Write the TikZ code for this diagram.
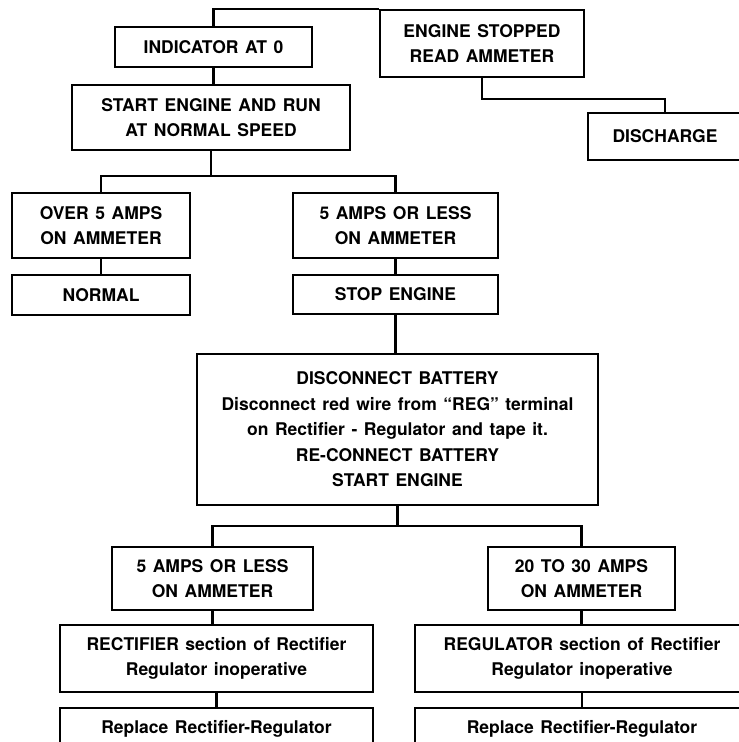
\documentclass[tikz,border=0pt]{standalone}
\usepackage{fontspec}
\setmainfont{TeX Gyre Heros}[WordSpace=1.35]
\begin{document}
\begin{tikzpicture}[x=1pt,y=-1pt,
  box/.style={draw, line width=2.4pt, rectangle, inner sep=0pt, align=center,
    font=\bfseries\fontsize{17.5}{25.5}\selectfont},
  link/.style={line width=2.4pt}]
\useasboundingbox (0,0) rectangle (739,742);
\clip (0,0) rectangle (739,742);
\fill[white] (0,0) rectangle (739,742);
\node[box, minimum width=197pt, minimum height=40pt] (ind) at (213.5,47) {INDICATOR AT 0};
\node[box, minimum width=204pt, minimum height=67pt] (eng) at (482,43.5) {ENGINE STOPPED\\READ AMMETER};
\node[box, minimum width=154pt, minimum height=47pt] (dis) at (665,136.5) {DISCHARGE};
\node[box, minimum width=278pt, minimum height=65pt] (start) at (211,117.5) {START ENGINE AND RUN\\AT NORMAL SPEED};
\node[box, minimum width=178pt, minimum height=65pt] (over) at (101,225.5) {OVER 5 AMPS\\ON AMMETER};
\node[box, minimum width=205pt, minimum height=65pt] (less) at (395.5,225.5) {5 AMPS OR LESS\\ON AMMETER};
\node[box, minimum width=178pt, minimum height=40pt] (normal) at (101,295) {NORMAL};
\node[box, minimum width=205pt, minimum height=39pt] (stop) at (395.5,294.5) {STOP ENGINE};
\node[box, minimum width=401pt, minimum height=151pt] (disc) at (397.5,429.5) {DISCONNECT BATTERY\\Disconnect red wire from ``REG'' terminal\\on Rectifier - Regulator and tape it.\\RE-CONNECT BATTERY\\START ENGINE};
\node[box, minimum width=201pt, minimum height=63pt] (less2) at (212.5,578.5) {5 AMPS OR LESS\\ON AMMETER};
\node[box, minimum width=187pt, minimum height=63pt] (twenty) at (581.5,578.5) {20 TO 30 AMPS\\ON AMMETER};
\node[box, minimum width=313pt, minimum height=67pt] (rect) at (216.5,658.5) {RECTIFIER section of Rectifier\\Regulator inoperative};
\node[box, minimum width=334pt, minimum height=67pt] (reg) at (582,658.5) {REGULATOR section of Rectifier\\Regulator inoperative};
\node[box, minimum width=313pt, minimum height=42pt] (rep1) at (216.5,729) {Replace Rectifier-Regulator};
\node[box, minimum width=334pt, minimum height=42pt] (rep2) at (582,729) {Replace Rectifier-Regulator};
% connectors
\draw[link] (ind.north) |- (eng.north west);
\draw[link] (ind.south) -- (ind.south |- start.north);
\draw[link] (eng.south) -- ++(0,21) -| (dis.north);
\draw[link] (start.south) -- ++(0,25) coordinate (j1);
\draw[link] (over.north) |- (j1) -| (less.north);
\draw[link] (over.south) -- (normal.north);
\draw[link] (less.south) -- (stop.north);
\draw[link] (stop.south) -- (stop.south |- disc.north);
\draw[link] (disc.south) -- ++(0,20) coordinate (j2);
\draw[link] (less2.north) |- (j2) -| (twenty.north);
\draw[link] (less2.south) -- (less2.south |- rect.north);
\draw[link] (twenty.south) -- (twenty.south |- reg.north);
\draw[link] (rect.south) -- (rect.south |- rep1.north);
\draw[link] (reg.south) -- (reg.south |- rep2.north);
\end{tikzpicture}
\end{document}
